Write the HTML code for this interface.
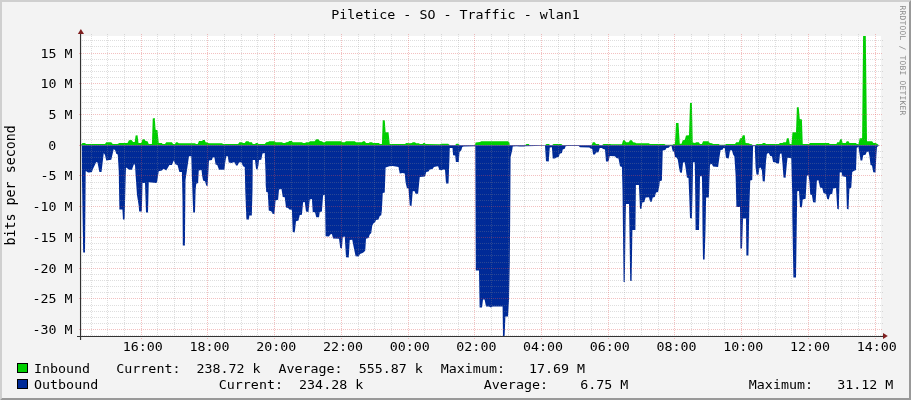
<!DOCTYPE html><html><head><meta charset="utf-8"><title>Piletice - SO - Traffic - wlan1</title>
<style>html,body{margin:0;padding:0;background:#f3f3f3;}svg{display:block}text{font-family:"DejaVu Sans Mono","Liberation Mono",monospace;fill:#000}</style></head><body>
<svg width="911" height="400" viewBox="0 0 911 400">
<rect x="0" y="0" width="911" height="400" fill="#f3f3f3"/>
<polygon points="0,0 911,0 909,2 2,2 2,398 0,400" fill="#cfcfcf"/>
<polygon points="911,0 911,400 0,400 2,398 909,398 909,2" fill="#999999"/>
<rect x="81" y="36" width="800" height="300" fill="#ffffff"/>
<g shape-rendering="auto">
<polygon fill="#00cf00" points="81.00,145.20 81.25,144.40 82.50,143.10 85.00,143.10 86.00,144.00 105.00,144.00 106.25,142.25 111.25,142.25 112.75,144.00 117.50,144.00 119.40,143.10 127.50,143.10 129.00,140.25 131.50,140.00 133.10,141.90 134.75,141.90 135.60,135.60 137.50,135.25 138.50,143.10 141.25,143.10 142.50,139.40 144.40,139.00 145.60,141.00 147.50,141.25 148.75,144.00 151.90,144.00 152.75,118.50 154.75,118.10 155.60,129.75 157.50,130.25 158.75,143.10 161.90,143.10 162.50,144.00 165.00,144.00 166.25,142.25 171.90,142.25 173.10,144.00 175.00,144.00 176.00,142.25 177.50,142.25 178.75,143.25 190.00,143.25 195.00,143.25 196.00,144.00 197.75,144.00 199.00,141.00 201.90,141.00 203.10,140.00 204.75,140.00 205.60,142.25 207.50,142.50 208.75,143.25 221.90,143.25 223.10,144.00 238.10,144.00 239.40,142.25 241.90,142.25 243.10,143.10 244.75,143.10 246.00,141.25 248.50,141.25 249.40,142.25 251.90,142.25 252.75,144.00 255.00,144.00 256.00,143.10 257.50,143.10 258.50,144.00 264.75,144.00 266.25,142.25 268.10,142.00 269.40,141.25 274.75,141.25 275.60,142.25 281.90,142.25 283.10,143.10 285.00,143.10 286.25,142.25 288.10,142.00 289.40,141.00 291.90,141.00 292.75,142.25 300.00,142.25 301.90,142.25 303.10,143.10 305.00,143.10 306.25,142.25 308.75,142.25 310.00,141.25 314.75,141.25 316.00,139.25 318.50,139.25 319.75,141.00 321.90,141.25 323.10,142.25 324.75,142.25 326.00,141.25 341.25,141.25 342.50,142.25 344.75,142.25 346.00,141.25 354.75,141.25 356.00,142.25 361.90,142.25 363.10,141.25 364.75,141.25 366.00,143.10 368.75,143.10 369.75,142.25 371.90,142.25 373.10,143.10 378.75,143.10 380.00,144.00 381.90,144.00 382.75,120.25 384.75,120.25 385.60,132.25 388.50,132.25 389.75,144.00 405.00,144.00 406.25,143.10 410.00,143.25 411.90,143.10 412.75,142.25 415.00,142.25 416.00,143.25 418.75,143.25 420.00,144.00 422.50,144.00 423.50,143.10 424.75,143.10 425.60,144.00 440.00,144.25 441.25,143.75 448.10,143.75 449.40,144.75 450.00,145.20 455.30,145.20 455.60,144.40 456.50,143.75 458.50,143.75 459.40,144.75 460.00,145.20 475.00,145.20 475.60,142.50 480.00,141.90 481.25,141.25 508.10,141.25 509.40,142.50 509.75,145.20 525.30,145.20 525.60,144.75 526.50,144.00 528.75,144.00 529.75,145.20 545.30,145.20 545.60,144.75 546.50,144.00 549.00,144.00 549.75,144.75 550.00,145.20 552.20,145.20 552.50,144.75 553.50,144.00 561.25,144.00 562.25,144.75 562.50,145.20 591.60,145.20 591.90,144.75 592.75,142.25 594.75,142.25 596.00,144.00 598.75,144.00 599.40,144.75 599.70,145.20 602.20,145.20 602.50,144.75 603.50,144.00 610.00,144.00 611.25,144.25 621.90,144.25 623.10,140.25 624.75,140.25 626.00,142.25 628.75,142.25 630.00,140.25 631.90,140.25 633.10,142.25 635.00,142.50 636.25,143.25 648.75,143.25 650.00,144.00 664.40,144.00 665.60,144.75 672.50,144.75 673.75,144.00 675.00,143.75 676.00,123.10 678.50,123.10 679.75,143.75 681.50,143.75 682.75,140.25 684.75,140.00 686.00,135.60 689.00,135.25 690.00,103.10 691.90,103.10 692.75,142.50 695.00,143.10 696.25,142.25 698.75,142.25 700.00,144.00 701.90,144.00 703.10,141.25 708.50,141.25 709.75,143.10 711.90,143.25 713.10,144.00 718.75,144.00 719.75,144.75 725.00,144.75 726.25,144.00 735.00,144.00 736.25,142.25 738.75,142.25 740.00,138.50 741.90,137.75 742.75,135.25 744.75,135.25 745.60,143.10 748.75,143.25 750.00,144.00 751.90,144.25 752.75,145.20 755.30,145.20 755.60,144.75 756.90,144.00 761.90,144.00 763.10,143.10 765.00,143.10 766.00,144.00 778.75,144.00 780.00,143.10 782.50,143.10 783.50,142.25 786.00,142.25 786.90,138.25 788.75,138.25 789.75,144.00 791.50,144.00 792.50,132.25 796.00,132.25 796.90,107.25 798.75,107.25 799.75,119.00 801.90,119.40 802.75,144.00 808.90,144.00 810.10,143.10 828.90,143.10 829.75,144.00 836.40,144.00 837.25,142.25 839.20,142.25 840.10,139.25 841.75,139.25 842.60,143.10 845.75,143.10 846.75,141.25 848.50,141.25 849.50,143.10 855.75,143.10 857.00,144.00 858.50,144.00 859.70,138.25 862.10,138.25 863.10,36.00 865.80,36.00 867.00,141.25 872.10,141.25 873.40,143.10 875.50,143.10 877.40,144.00 879.00,145.20"/>
<polygon fill="#002a97" points="81.80,145.20 82.00,180.00 83.20,252.40 85.00,252.40 85.70,171.30 86.30,171.30 88.00,172.50 89.40,172.50 91.90,171.90 93.10,168.75 96.25,161.90 97.50,162.50 99.40,171.90 101.50,171.90 103.75,153.10 105.00,155.00 106.25,160.60 111.25,159.75 113.75,149.00 115.25,150.60 116.25,153.75 117.75,154.40 118.75,171.25 119.40,209.40 122.40,209.40 123.00,219.60 124.60,219.60 125.60,180.00 126.00,167.50 129.40,169.75 131.90,169.75 134.00,164.00 135.00,165.00 135.60,175.00 137.00,195.00 138.60,205.00 139.20,211.40 141.80,211.40 142.50,183.10 145.00,183.10 146.00,212.60 148.00,212.60 148.75,182.25 156.00,183.00 157.00,182.50 158.75,171.25 161.90,170.60 163.75,168.75 166.25,170.60 169.40,165.00 171.90,165.00 173.75,160.60 175.60,164.40 177.50,165.00 179.40,171.90 181.90,171.90 182.50,200.00 182.80,245.60 184.90,245.60 185.50,180.00 189.00,156.25 191.25,156.25 192.00,180.00 193.20,212.60 195.00,212.60 195.60,190.00 196.25,183.75 198.10,183.10 198.75,170.60 201.50,170.00 202.25,176.25 203.10,180.60 205.00,181.25 206.25,185.60 207.50,186.25 208.10,177.50 209.00,160.60 211.90,160.00 212.75,157.50 214.40,157.25 215.60,164.40 217.25,165.00 219.00,169.75 224.40,169.75 225.25,162.50 226.25,156.25 227.75,156.25 228.75,162.50 231.90,163.10 233.10,162.25 234.75,162.50 236.00,165.60 237.50,165.60 239.00,162.50 241.25,162.25 243.10,166.25 244.75,166.90 245.25,190.00 246.40,219.40 249.00,219.40 249.30,215.40 251.80,215.40 252.50,190.00 252.75,160.00 255.00,160.00 256.00,168.75 257.50,169.75 258.50,165.00 259.00,160.00 261.25,159.75 262.50,153.50 264.75,153.10 265.60,175.00 265.70,185.00 266.25,191.90 267.75,192.25 268.75,210.60 271.25,211.25 272.50,213.75 274.40,214.00 275.60,200.25 278.10,199.75 279.00,189.40 281.50,189.00 282.75,196.90 284.75,197.25 286.00,207.50 288.10,208.10 289.40,209.40 291.90,209.75 292.75,231.90 294.75,232.50 296.00,221.25 298.50,220.60 299.75,215.00 301.90,214.75 303.10,202.25 304.75,201.90 306.00,211.50 308.50,211.90 309.75,199.40 311.90,199.00 312.75,211.90 315.00,212.25 316.25,217.25 319.00,217.25 319.75,211.90 321.90,211.50 323.10,195.25 324.75,195.00 325.20,210.00 325.60,236.25 329.00,236.50 330.25,234.40 331.90,234.00 333.10,238.50 339.00,238.75 340.25,248.10 341.90,248.50 342.75,236.90 344.75,236.50 346.00,257.25 348.75,257.50 349.75,240.00 352.25,239.75 353.50,246.25 355.60,256.25 358.75,256.50 360.00,254.00 362.50,253.10 364.00,251.90 365.25,250.60 366.00,238.75 368.50,238.10 369.75,234.40 371.25,233.10 372.25,225.60 373.75,223.10 375.00,222.50 376.00,220.00 378.50,219.40 379.75,216.00 381.25,215.25 381.90,210.00 382.75,193.10 384.75,192.50 385.60,167.50 389.40,166.25 392.50,166.00 395.60,166.50 398.50,166.90 399.75,173.50 402.50,173.10 404.75,173.50 405.60,182.50 406.90,188.10 408.50,188.75 409.75,205.60 411.50,206.00 412.75,191.25 414.40,191.00 415.60,193.75 418.10,193.75 419.75,176.90 425.00,176.50 426.25,171.90 428.50,171.50 429.75,169.40 432.50,169.00 434.00,166.90 436.25,166.50 438.10,166.25 439.40,170.00 441.90,170.25 443.10,169.40 445.00,169.75 446.00,183.50 448.50,183.50 449.40,160.00 449.75,148.10 452.50,148.10 453.10,155.30 455.20,155.60 455.90,161.90 458.75,161.90 459.50,152.00 461.30,150.30 462.25,146.90 463.75,146.50 475.25,146.20 475.30,146.40 475.80,270.40 479.00,270.40 479.60,307.60 482.00,307.60 483.00,299.60 484.60,299.60 486.00,306.40 489.00,306.40 491.00,307.60 492.60,306.40 502.60,306.40 503.00,336.00 504.60,336.00 505.40,316.40 508.00,316.40 509.00,300.00 509.80,262.00 510.20,215.00 510.60,157.00 512.25,150.00 512.75,146.50 516.25,146.30 520.00,146.50 524.50,146.50 525.00,146.30 545.00,145.75 546.00,161.25 548.75,161.50 549.75,147.50 551.90,147.25 552.75,158.50 555.00,158.50 556.25,157.50 558.75,156.90 559.75,153.75 561.90,153.10 562.75,149.40 564.75,148.75 565.60,146.25 566.90,145.90 578.75,145.90 580.00,147.25 589.40,147.50 590.60,148.50 592.25,149.00 593.10,154.40 595.00,154.40 596.00,152.50 598.50,152.25 599.75,148.10 601.90,148.10 603.10,149.00 605.00,149.40 606.00,161.50 608.50,161.50 609.75,156.00 615.00,156.25 616.25,158.10 618.50,158.50 620.00,166.25 621.90,166.90 622.50,190.00 623.60,282.00 624.80,282.00 625.70,215.00 626.00,204.00 629.00,204.00 629.60,240.00 630.20,281.00 631.60,281.00 632.40,230.00 635.40,230.00 635.90,185.00 638.90,185.00 640.00,208.75 641.50,208.75 642.25,202.50 644.40,201.90 645.60,197.50 649.00,197.25 650.00,201.50 651.50,201.90 652.75,197.50 654.75,196.90 656.00,192.50 658.10,191.90 659.40,185.60 659.75,181.25 661.90,180.60 662.75,150.60 665.25,150.00 666.50,148.10 668.75,147.75 670.00,146.25 671.50,146.00 672.50,150.60 674.00,151.90 675.00,156.90 676.50,157.50 677.75,159.40 679.00,167.50 680.00,172.50 681.90,172.75 683.10,162.50 684.75,162.25 685.60,168.10 686.90,177.50 688.50,178.10 689.20,195.00 690.00,218.10 691.90,218.50 692.60,190.00 693.10,162.25 694.75,162.25 695.25,195.00 695.60,230.00 699.00,230.00 699.70,195.00 700.00,176.25 701.90,176.25 702.25,195.00 702.50,230.00 703.00,259.40 704.60,259.40 705.50,230.00 706.10,197.50 708.90,197.50 709.40,180.00 710.00,164.40 711.90,164.00 713.10,166.50 718.10,166.90 719.40,157.50 720.60,150.00 722.50,149.75 723.50,148.10 724.75,148.10 726.00,158.10 728.75,158.50 730.00,150.60 731.90,150.25 733.10,154.40 734.40,156.60 735.60,175.00 736.40,207.00 740.00,207.00 740.40,248.60 742.00,248.60 743.00,218.60 746.00,218.60 746.40,255.40 748.40,255.40 749.40,205.00 749.75,195.00 750.25,180.60 752.25,180.00 753.10,146.25 754.75,146.00 755.60,167.50 756.50,174.40 758.50,174.75 759.40,168.10 760.60,167.50 761.90,170.60 762.75,181.25 764.75,181.50 766.00,161.25 766.90,153.75 768.75,153.10 770.25,156.00 771.90,156.25 773.10,161.90 775.60,162.50 776.90,163.50 779.00,163.50 780.00,153.75 781.50,153.50 782.50,163.75 783.50,177.50 785.60,177.75 786.50,167.50 787.50,157.75 790.00,158.10 791.25,158.50 792.25,195.00 792.30,215.00 793.40,277.40 796.00,277.40 796.90,215.00 797.25,191.25 799.00,191.00 800.00,206.90 801.90,207.50 802.75,199.40 805.60,198.75 806.90,175.60 808.50,175.25 809.40,181.25 810.25,194.40 811.90,195.00 813.10,202.25 815.60,202.50 816.90,180.60 818.50,180.25 820.00,187.50 822.25,188.10 823.50,193.10 826.00,194.00 827.25,199.00 828.75,199.40 830.00,194.40 832.25,193.75 833.10,188.50 836.00,188.10 837.25,208.75 838.75,209.40 839.75,172.50 841.50,172.25 842.50,176.25 846.00,176.90 846.90,208.75 848.50,209.40 849.40,188.75 851.25,187.50 852.25,171.90 853.75,171.00 856.00,170.00 856.75,147.75 858.50,146.90 859.50,153.75 860.50,160.60 862.25,160.60 863.25,155.25 865.50,154.75 866.75,151.90 868.50,151.50 869.50,156.25 870.50,165.00 872.00,165.60 873.25,172.25 875.50,172.50 876.40,155.00 877.00,146.90 878.25,146.20 878.90,145.20"/>
</g>
<g shape-rendering="crispEdges"><line x1="80" y1="335.5" x2="883" y2="335.5" stroke="#8f8f8f" stroke-opacity="0.29" stroke-width="1" stroke-dasharray="1,1"/><line x1="79" y1="329.5" x2="883" y2="329.5" stroke="#de4f4f" stroke-opacity="0.36" stroke-width="1" stroke-dasharray="1,1"/><line x1="80" y1="323.5" x2="883" y2="323.5" stroke="#8f8f8f" stroke-opacity="0.29" stroke-width="1" stroke-dasharray="1,1"/><line x1="80" y1="317.5" x2="883" y2="317.5" stroke="#8f8f8f" stroke-opacity="0.29" stroke-width="1" stroke-dasharray="1,1"/><line x1="80" y1="311.5" x2="883" y2="311.5" stroke="#8f8f8f" stroke-opacity="0.29" stroke-width="1" stroke-dasharray="1,1"/><line x1="80" y1="305.5" x2="883" y2="305.5" stroke="#8f8f8f" stroke-opacity="0.29" stroke-width="1" stroke-dasharray="1,1"/><line x1="79" y1="298.5" x2="883" y2="298.5" stroke="#de4f4f" stroke-opacity="0.36" stroke-width="1" stroke-dasharray="1,1"/><line x1="80" y1="292.5" x2="883" y2="292.5" stroke="#8f8f8f" stroke-opacity="0.29" stroke-width="1" stroke-dasharray="1,1"/><line x1="80" y1="286.5" x2="883" y2="286.5" stroke="#8f8f8f" stroke-opacity="0.29" stroke-width="1" stroke-dasharray="1,1"/><line x1="80" y1="280.5" x2="883" y2="280.5" stroke="#8f8f8f" stroke-opacity="0.29" stroke-width="1" stroke-dasharray="1,1"/><line x1="80" y1="274.5" x2="883" y2="274.5" stroke="#8f8f8f" stroke-opacity="0.29" stroke-width="1" stroke-dasharray="1,1"/><line x1="79" y1="268.5" x2="883" y2="268.5" stroke="#de4f4f" stroke-opacity="0.36" stroke-width="1" stroke-dasharray="1,1"/><line x1="80" y1="262.5" x2="883" y2="262.5" stroke="#8f8f8f" stroke-opacity="0.29" stroke-width="1" stroke-dasharray="1,1"/><line x1="80" y1="255.5" x2="883" y2="255.5" stroke="#8f8f8f" stroke-opacity="0.29" stroke-width="1" stroke-dasharray="1,1"/><line x1="80" y1="249.5" x2="883" y2="249.5" stroke="#8f8f8f" stroke-opacity="0.29" stroke-width="1" stroke-dasharray="1,1"/><line x1="80" y1="243.5" x2="883" y2="243.5" stroke="#8f8f8f" stroke-opacity="0.29" stroke-width="1" stroke-dasharray="1,1"/><line x1="79" y1="237.5" x2="883" y2="237.5" stroke="#de4f4f" stroke-opacity="0.36" stroke-width="1" stroke-dasharray="1,1"/><line x1="80" y1="231.5" x2="883" y2="231.5" stroke="#8f8f8f" stroke-opacity="0.29" stroke-width="1" stroke-dasharray="1,1"/><line x1="80" y1="225.5" x2="883" y2="225.5" stroke="#8f8f8f" stroke-opacity="0.29" stroke-width="1" stroke-dasharray="1,1"/><line x1="80" y1="218.5" x2="883" y2="218.5" stroke="#8f8f8f" stroke-opacity="0.29" stroke-width="1" stroke-dasharray="1,1"/><line x1="80" y1="212.5" x2="883" y2="212.5" stroke="#8f8f8f" stroke-opacity="0.29" stroke-width="1" stroke-dasharray="1,1"/><line x1="79" y1="206.5" x2="883" y2="206.5" stroke="#de4f4f" stroke-opacity="0.36" stroke-width="1" stroke-dasharray="1,1"/><line x1="80" y1="200.5" x2="883" y2="200.5" stroke="#8f8f8f" stroke-opacity="0.29" stroke-width="1" stroke-dasharray="1,1"/><line x1="80" y1="194.5" x2="883" y2="194.5" stroke="#8f8f8f" stroke-opacity="0.29" stroke-width="1" stroke-dasharray="1,1"/><line x1="80" y1="188.5" x2="883" y2="188.5" stroke="#8f8f8f" stroke-opacity="0.29" stroke-width="1" stroke-dasharray="1,1"/><line x1="80" y1="182.5" x2="883" y2="182.5" stroke="#8f8f8f" stroke-opacity="0.29" stroke-width="1" stroke-dasharray="1,1"/><line x1="79" y1="175.5" x2="883" y2="175.5" stroke="#de4f4f" stroke-opacity="0.36" stroke-width="1" stroke-dasharray="1,1"/><line x1="80" y1="169.5" x2="883" y2="169.5" stroke="#8f8f8f" stroke-opacity="0.29" stroke-width="1" stroke-dasharray="1,1"/><line x1="80" y1="163.5" x2="883" y2="163.5" stroke="#8f8f8f" stroke-opacity="0.29" stroke-width="1" stroke-dasharray="1,1"/><line x1="80" y1="157.5" x2="883" y2="157.5" stroke="#8f8f8f" stroke-opacity="0.29" stroke-width="1" stroke-dasharray="1,1"/><line x1="80" y1="151.5" x2="883" y2="151.5" stroke="#8f8f8f" stroke-opacity="0.29" stroke-width="1" stroke-dasharray="1,1"/><line x1="79" y1="145.5" x2="883" y2="145.5" stroke="#de4f4f" stroke-opacity="0.36" stroke-width="1" stroke-dasharray="1,1"/><line x1="80" y1="139.5" x2="883" y2="139.5" stroke="#8f8f8f" stroke-opacity="0.29" stroke-width="1" stroke-dasharray="1,1"/><line x1="80" y1="132.5" x2="883" y2="132.5" stroke="#8f8f8f" stroke-opacity="0.29" stroke-width="1" stroke-dasharray="1,1"/><line x1="80" y1="126.5" x2="883" y2="126.5" stroke="#8f8f8f" stroke-opacity="0.29" stroke-width="1" stroke-dasharray="1,1"/><line x1="80" y1="120.5" x2="883" y2="120.5" stroke="#8f8f8f" stroke-opacity="0.29" stroke-width="1" stroke-dasharray="1,1"/><line x1="79" y1="114.5" x2="883" y2="114.5" stroke="#de4f4f" stroke-opacity="0.36" stroke-width="1" stroke-dasharray="1,1"/><line x1="80" y1="108.5" x2="883" y2="108.5" stroke="#8f8f8f" stroke-opacity="0.29" stroke-width="1" stroke-dasharray="1,1"/><line x1="80" y1="102.5" x2="883" y2="102.5" stroke="#8f8f8f" stroke-opacity="0.29" stroke-width="1" stroke-dasharray="1,1"/><line x1="80" y1="96.5" x2="883" y2="96.5" stroke="#8f8f8f" stroke-opacity="0.29" stroke-width="1" stroke-dasharray="1,1"/><line x1="80" y1="89.5" x2="883" y2="89.5" stroke="#8f8f8f" stroke-opacity="0.29" stroke-width="1" stroke-dasharray="1,1"/><line x1="79" y1="83.5" x2="883" y2="83.5" stroke="#de4f4f" stroke-opacity="0.36" stroke-width="1" stroke-dasharray="1,1"/><line x1="80" y1="77.5" x2="883" y2="77.5" stroke="#8f8f8f" stroke-opacity="0.29" stroke-width="1" stroke-dasharray="1,1"/><line x1="80" y1="71.5" x2="883" y2="71.5" stroke="#8f8f8f" stroke-opacity="0.29" stroke-width="1" stroke-dasharray="1,1"/><line x1="80" y1="65.5" x2="883" y2="65.5" stroke="#8f8f8f" stroke-opacity="0.29" stroke-width="1" stroke-dasharray="1,1"/><line x1="80" y1="59.5" x2="883" y2="59.5" stroke="#8f8f8f" stroke-opacity="0.29" stroke-width="1" stroke-dasharray="1,1"/><line x1="79" y1="53.5" x2="883" y2="53.5" stroke="#de4f4f" stroke-opacity="0.36" stroke-width="1" stroke-dasharray="1,1"/><line x1="80" y1="46.5" x2="883" y2="46.5" stroke="#8f8f8f" stroke-opacity="0.29" stroke-width="1" stroke-dasharray="1,1"/><line x1="80" y1="40.5" x2="883" y2="40.5" stroke="#8f8f8f" stroke-opacity="0.29" stroke-width="1" stroke-dasharray="1,1"/><line x1="91.5" y1="34" x2="91.5" y2="337" stroke="#8f8f8f" stroke-opacity="0.29" stroke-width="1" stroke-dasharray="1,1"/><line x1="107.5" y1="34" x2="107.5" y2="337" stroke="#8f8f8f" stroke-opacity="0.29" stroke-width="1" stroke-dasharray="1,1"/><line x1="124.5" y1="34" x2="124.5" y2="337" stroke="#8f8f8f" stroke-opacity="0.29" stroke-width="1" stroke-dasharray="1,1"/><line x1="141.5" y1="34" x2="141.5" y2="339" stroke="#de4f4f" stroke-opacity="0.36" stroke-width="1" stroke-dasharray="1,1"/><line x1="157.5" y1="34" x2="157.5" y2="337" stroke="#8f8f8f" stroke-opacity="0.29" stroke-width="1" stroke-dasharray="1,1"/><line x1="174.5" y1="34" x2="174.5" y2="337" stroke="#8f8f8f" stroke-opacity="0.29" stroke-width="1" stroke-dasharray="1,1"/><line x1="191.5" y1="34" x2="191.5" y2="337" stroke="#8f8f8f" stroke-opacity="0.29" stroke-width="1" stroke-dasharray="1,1"/><line x1="207.5" y1="34" x2="207.5" y2="339" stroke="#de4f4f" stroke-opacity="0.36" stroke-width="1" stroke-dasharray="1,1"/><line x1="224.5" y1="34" x2="224.5" y2="337" stroke="#8f8f8f" stroke-opacity="0.29" stroke-width="1" stroke-dasharray="1,1"/><line x1="241.5" y1="34" x2="241.5" y2="337" stroke="#8f8f8f" stroke-opacity="0.29" stroke-width="1" stroke-dasharray="1,1"/><line x1="257.5" y1="34" x2="257.5" y2="337" stroke="#8f8f8f" stroke-opacity="0.29" stroke-width="1" stroke-dasharray="1,1"/><line x1="274.5" y1="34" x2="274.5" y2="339" stroke="#de4f4f" stroke-opacity="0.36" stroke-width="1" stroke-dasharray="1,1"/><line x1="291.5" y1="34" x2="291.5" y2="337" stroke="#8f8f8f" stroke-opacity="0.29" stroke-width="1" stroke-dasharray="1,1"/><line x1="308.5" y1="34" x2="308.5" y2="337" stroke="#8f8f8f" stroke-opacity="0.29" stroke-width="1" stroke-dasharray="1,1"/><line x1="324.5" y1="34" x2="324.5" y2="337" stroke="#8f8f8f" stroke-opacity="0.29" stroke-width="1" stroke-dasharray="1,1"/><line x1="341.5" y1="34" x2="341.5" y2="339" stroke="#de4f4f" stroke-opacity="0.36" stroke-width="1" stroke-dasharray="1,1"/><line x1="358.5" y1="34" x2="358.5" y2="337" stroke="#8f8f8f" stroke-opacity="0.29" stroke-width="1" stroke-dasharray="1,1"/><line x1="374.5" y1="34" x2="374.5" y2="337" stroke="#8f8f8f" stroke-opacity="0.29" stroke-width="1" stroke-dasharray="1,1"/><line x1="391.5" y1="34" x2="391.5" y2="337" stroke="#8f8f8f" stroke-opacity="0.29" stroke-width="1" stroke-dasharray="1,1"/><line x1="408.5" y1="34" x2="408.5" y2="339" stroke="#de4f4f" stroke-opacity="0.36" stroke-width="1" stroke-dasharray="1,1"/><line x1="424.5" y1="34" x2="424.5" y2="337" stroke="#8f8f8f" stroke-opacity="0.29" stroke-width="1" stroke-dasharray="1,1"/><line x1="441.5" y1="34" x2="441.5" y2="337" stroke="#8f8f8f" stroke-opacity="0.29" stroke-width="1" stroke-dasharray="1,1"/><line x1="458.5" y1="34" x2="458.5" y2="337" stroke="#8f8f8f" stroke-opacity="0.29" stroke-width="1" stroke-dasharray="1,1"/><line x1="474.5" y1="34" x2="474.5" y2="339" stroke="#de4f4f" stroke-opacity="0.36" stroke-width="1" stroke-dasharray="1,1"/><line x1="491.5" y1="34" x2="491.5" y2="337" stroke="#8f8f8f" stroke-opacity="0.29" stroke-width="1" stroke-dasharray="1,1"/><line x1="508.5" y1="34" x2="508.5" y2="337" stroke="#8f8f8f" stroke-opacity="0.29" stroke-width="1" stroke-dasharray="1,1"/><line x1="524.5" y1="34" x2="524.5" y2="337" stroke="#8f8f8f" stroke-opacity="0.29" stroke-width="1" stroke-dasharray="1,1"/><line x1="541.5" y1="34" x2="541.5" y2="339" stroke="#de4f4f" stroke-opacity="0.36" stroke-width="1" stroke-dasharray="1,1"/><line x1="558.5" y1="34" x2="558.5" y2="337" stroke="#8f8f8f" stroke-opacity="0.29" stroke-width="1" stroke-dasharray="1,1"/><line x1="574.5" y1="34" x2="574.5" y2="337" stroke="#8f8f8f" stroke-opacity="0.29" stroke-width="1" stroke-dasharray="1,1"/><line x1="591.5" y1="34" x2="591.5" y2="337" stroke="#8f8f8f" stroke-opacity="0.29" stroke-width="1" stroke-dasharray="1,1"/><line x1="608.5" y1="34" x2="608.5" y2="339" stroke="#de4f4f" stroke-opacity="0.36" stroke-width="1" stroke-dasharray="1,1"/><line x1="624.5" y1="34" x2="624.5" y2="337" stroke="#8f8f8f" stroke-opacity="0.29" stroke-width="1" stroke-dasharray="1,1"/><line x1="641.5" y1="34" x2="641.5" y2="337" stroke="#8f8f8f" stroke-opacity="0.29" stroke-width="1" stroke-dasharray="1,1"/><line x1="658.5" y1="34" x2="658.5" y2="337" stroke="#8f8f8f" stroke-opacity="0.29" stroke-width="1" stroke-dasharray="1,1"/><line x1="674.5" y1="34" x2="674.5" y2="339" stroke="#de4f4f" stroke-opacity="0.36" stroke-width="1" stroke-dasharray="1,1"/><line x1="691.5" y1="34" x2="691.5" y2="337" stroke="#8f8f8f" stroke-opacity="0.29" stroke-width="1" stroke-dasharray="1,1"/><line x1="708.5" y1="34" x2="708.5" y2="337" stroke="#8f8f8f" stroke-opacity="0.29" stroke-width="1" stroke-dasharray="1,1"/><line x1="724.5" y1="34" x2="724.5" y2="337" stroke="#8f8f8f" stroke-opacity="0.29" stroke-width="1" stroke-dasharray="1,1"/><line x1="741.5" y1="34" x2="741.5" y2="339" stroke="#de4f4f" stroke-opacity="0.36" stroke-width="1" stroke-dasharray="1,1"/><line x1="758.5" y1="34" x2="758.5" y2="337" stroke="#8f8f8f" stroke-opacity="0.29" stroke-width="1" stroke-dasharray="1,1"/><line x1="775.5" y1="34" x2="775.5" y2="337" stroke="#8f8f8f" stroke-opacity="0.29" stroke-width="1" stroke-dasharray="1,1"/><line x1="791.5" y1="34" x2="791.5" y2="337" stroke="#8f8f8f" stroke-opacity="0.29" stroke-width="1" stroke-dasharray="1,1"/><line x1="808.5" y1="34" x2="808.5" y2="339" stroke="#de4f4f" stroke-opacity="0.36" stroke-width="1" stroke-dasharray="1,1"/><line x1="825.5" y1="34" x2="825.5" y2="337" stroke="#8f8f8f" stroke-opacity="0.29" stroke-width="1" stroke-dasharray="1,1"/><line x1="841.5" y1="34" x2="841.5" y2="337" stroke="#8f8f8f" stroke-opacity="0.29" stroke-width="1" stroke-dasharray="1,1"/><line x1="858.5" y1="34" x2="858.5" y2="337" stroke="#8f8f8f" stroke-opacity="0.29" stroke-width="1" stroke-dasharray="1,1"/><line x1="875.5" y1="34" x2="875.5" y2="339" stroke="#de4f4f" stroke-opacity="0.36" stroke-width="1" stroke-dasharray="1,1"/></g>
<line x1="80.55" y1="33" x2="80.55" y2="340" stroke="#333" stroke-width="1.15"/>
<line x1="77" y1="336.5" x2="885" y2="336.5" stroke="#333" stroke-width="1.15"/>
<polygon points="80.9,29 77.8,34 84,34" fill="#802020"/>
<polygon points="887.8,336 883,333 883,339" fill="#802020"/>
<text x="455.5" y="19" font-size="13.33" transform="translate(0,19) scale(1,0.93) translate(0,-19)" text-anchor="middle">Piletice - SO - Traffic - wlan1</text>
<text x="72.5" y="334.0" font-size="13.33" transform="translate(0,334) scale(1,0.93) translate(0,-334)" text-anchor="end">-30 M</text>
<text x="72.5" y="303.0" font-size="13.33" transform="translate(0,303) scale(1,0.93) translate(0,-303)" text-anchor="end">-25 M</text>
<text x="72.5" y="273.0" font-size="13.33" transform="translate(0,273) scale(1,0.93) translate(0,-273)" text-anchor="end">-20 M</text>
<text x="72.5" y="242.0" font-size="13.33" transform="translate(0,242) scale(1,0.93) translate(0,-242)" text-anchor="end">-15 M</text>
<text x="72.5" y="211.0" font-size="13.33" transform="translate(0,211) scale(1,0.93) translate(0,-211)" text-anchor="end">-10 M</text>
<text x="72.5" y="180.0" font-size="13.33" transform="translate(0,180) scale(1,0.93) translate(0,-180)" text-anchor="end">-5 M</text>
<text x="56.4" y="150.0" font-size="13.33" transform="translate(0,150) scale(1,0.93) translate(0,-150)" text-anchor="end">0</text>
<text x="72.5" y="119.0" font-size="13.33" transform="translate(0,119) scale(1,0.93) translate(0,-119)" text-anchor="end">5 M</text>
<text x="72.5" y="88.0" font-size="13.33" transform="translate(0,88) scale(1,0.93) translate(0,-88)" text-anchor="end">10 M</text>
<text x="72.5" y="58.0" font-size="13.33" transform="translate(0,58) scale(1,0.93) translate(0,-58)" text-anchor="end">15 M</text>
<text x="142.8" y="351" font-size="13.33" transform="translate(0,351) scale(1,0.93) translate(0,-351)" text-anchor="middle">16:00</text>
<text x="209.6" y="351" font-size="13.33" transform="translate(0,351) scale(1,0.93) translate(0,-351)" text-anchor="middle">18:00</text>
<text x="276.3" y="351" font-size="13.33" transform="translate(0,351) scale(1,0.93) translate(0,-351)" text-anchor="middle">20:00</text>
<text x="343.0" y="351" font-size="13.33" transform="translate(0,351) scale(1,0.93) translate(0,-351)" text-anchor="middle">22:00</text>
<text x="409.7" y="351" font-size="13.33" transform="translate(0,351) scale(1,0.93) translate(0,-351)" text-anchor="middle">00:00</text>
<text x="476.4" y="351" font-size="13.33" transform="translate(0,351) scale(1,0.93) translate(0,-351)" text-anchor="middle">02:00</text>
<text x="543.1" y="351" font-size="13.33" transform="translate(0,351) scale(1,0.93) translate(0,-351)" text-anchor="middle">04:00</text>
<text x="609.8" y="351" font-size="13.33" transform="translate(0,351) scale(1,0.93) translate(0,-351)" text-anchor="middle">06:00</text>
<text x="676.5" y="351" font-size="13.33" transform="translate(0,351) scale(1,0.93) translate(0,-351)" text-anchor="middle">08:00</text>
<text x="743.2" y="351" font-size="13.33" transform="translate(0,351) scale(1,0.93) translate(0,-351)" text-anchor="middle">10:00</text>
<text x="810.0" y="351" font-size="13.33" transform="translate(0,351) scale(1,0.93) translate(0,-351)" text-anchor="middle">12:00</text>
<text x="876.7" y="351" font-size="13.33" transform="translate(0,351) scale(1,0.93) translate(0,-351)" text-anchor="middle">14:00</text>
<text transform="translate(15,185.4) rotate(-90)" font-size="13.33" text-anchor="middle">bits per second</text>
<text transform="translate(899.6,5.6) rotate(90)" font-size="7.9" letter-spacing="0.245" style="fill:#000;fill-opacity:0.46">RRDTOOL / TOBI OETIKER</text>
<rect x="17.5" y="363.5" width="10" height="9" fill="#00cf00" stroke="#000" stroke-width="1"/>
<rect x="17.5" y="379.5" width="10" height="9" fill="#002a97" stroke="#000" stroke-width="1"/>
<text y="373" font-size="13.33" transform="translate(0,373) scale(1,0.93) translate(0,-373)" xml:space="preserve"><tspan x="34">Inbound</tspan><tspan x="116.3">Current:  238.72 k</tspan><tspan x="278.5">Average:  555.87 k</tspan><tspan x="440.8">Maximum:   17.69 M</tspan></text>
<text x="34" y="389" font-size="13.33" letter-spacing="0.014" transform="translate(0,389) scale(1,0.93) translate(0,-389)" xml:space="preserve">Outbound               Current:  234.28 k               Average:    6.75 M               Maximum:   31.12 M</text>
</svg></body></html>
